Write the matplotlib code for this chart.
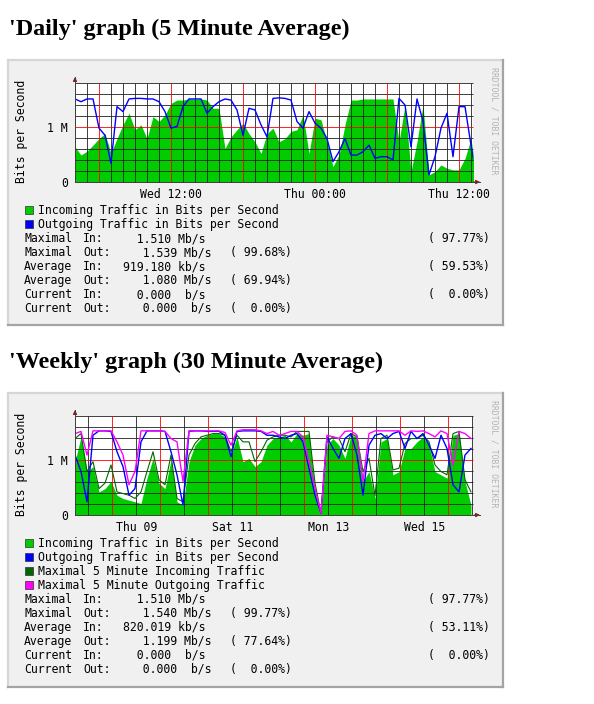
import numpy as np
import matplotlib
matplotlib.use('Agg')
import matplotlib.pyplot as plt
from matplotlib.patches import Rectangle
from matplotlib.lines import Line2D

# page size in pixels
W, H = 594, 704

# Daily graph: 30 minute samples starting Wed 04:00 (Mb/s)
daily_in = [0.64, 0.49, 0.56, 0.67, 0.79, 0.88, 0.52, 0.79, 1.04, 1.25, 0.95,
            1.04, 0.79, 1.19, 1.10, 1.22, 1.43, 1.49, 1.49, 1.51, 1.51, 1.51,
            1.49, 1.34, 1.34, 0.61, 0.82, 0.95, 1.07, 0.88, 0.73, 0.52, 0.88,
            0.98, 0.73, 0.79, 0.92, 0.95, 1.22, 0.52, 1.16, 1.13, 0.73, 0.28,
            0.49, 1.04, 1.49, 1.49, 1.51, 1.51, 1.51, 1.51, 1.51, 1.51, 0.73,
            1.40, 0.19, 0.73, 1.40, 0.13, 0.19, 0.31, 0.25, 0.22, 0.22, 0.43,
            0.79, 0.0]
daily_out = [1.51, 1.46, 1.51, 1.51, 0.98, 0.85, 0.34, 1.37, 1.28, 1.51, 1.52,
             1.52, 1.51, 1.51, 1.46, 1.28, 0.98, 1.01, 1.37, 1.51, 1.51, 1.51,
             1.25, 1.37, 1.46, 1.51, 1.49, 1.31, 0.85, 1.34, 1.31, 1.04, 0.82,
             1.52, 1.53, 1.52, 1.49, 1.10, 0.98, 1.28, 1.07, 0.98, 0.79, 0.37,
             0.55, 0.79, 0.49, 0.49, 0.55, 0.67, 0.43, 0.46, 0.46, 0.40, 1.52,
             1.40, 0.64, 1.51, 1.10, 0.13, 0.46, 0.98, 1.25, 0.46, 1.37, 1.37,
             0.67, 0.0]
daily_tick_hours = [12, 24, 36]
daily_tick_labels = ['Wed 12:00', 'Thu 00:00', 'Thu 12:00']

# Weekly graph: 3 hour samples starting Wed 08 05:20 (Mb/s)
weekly_in = [0.97, 1.42, 0.79, 0.88, 0.42, 0.48, 0.61, 0.36, 0.30, 0.27, 0.24,
             0.21, 0.67, 1.03, 0.58, 0.48, 1.00, 0.24, 0.18, 0.97, 1.27, 1.39,
             1.45, 1.48, 1.48, 1.42, 1.09, 1.42, 0.97, 1.03, 0.88, 0.97, 1.27,
             1.39, 1.42, 1.45, 1.33, 1.48, 1.45, 1.48, 0.42, 0.03, 1.27, 1.39,
             1.27, 1.03, 1.45, 1.42, 0.61, 0.79, 0.30, 1.33, 1.39, 0.73, 0.79,
             1.21, 1.21, 1.33, 1.42, 1.27, 0.79, 0.73, 0.67, 1.45, 1.48, 0.61,
             0.18]
weekly_max_in = [1.39, 1.48, 0.79, 0.97, 0.48, 0.58, 0.91, 0.42, 0.39, 0.36,
                 0.30, 0.42, 0.79, 1.15, 0.64, 0.55, 1.09, 0.30, 0.24, 1.09,
                 1.30, 1.42, 1.45, 1.48, 1.48, 1.45, 1.15, 1.45, 1.33, 1.33,
                 0.97, 1.15, 1.36, 1.42, 1.45, 1.45, 1.42, 1.52, 1.52, 1.52,
                 0.58, 0.03, 1.33, 1.42, 1.39, 1.15, 1.48, 1.42, 0.79, 1.03,
                 0.35, 1.39, 1.45, 0.82, 0.85, 1.30, 1.39, 1.39, 1.45, 1.33,
                 0.91, 0.79, 0.73, 1.48, 1.52, 0.64, 0.42]
weekly_out = [1.09, 0.79, 0.24, 1.45, 1.53, 1.53, 1.52, 1.15, 0.88, 0.36, 0.48,
              1.33, 1.53, 1.53, 1.53, 1.52, 1.15, 0.73, 0.18, 1.52, 1.53, 1.53,
              1.52, 1.52, 1.52, 1.45, 1.06, 1.52, 1.53, 1.53, 1.53, 1.52, 1.45,
              1.45, 1.42, 1.39, 1.45, 1.48, 1.33, 0.85, 0.36, 0.03, 1.42, 1.21,
              1.03, 1.39, 1.48, 1.09, 0.36, 1.27, 1.45, 1.48, 1.39, 1.48, 1.52,
              1.21, 1.52, 1.39, 1.48, 1.27, 1.03, 1.45, 1.21, 0.55, 0.42, 1.09,
              1.21]
weekly_max_out = [1.48, 1.52, 1.09, 1.53, 1.53, 1.53, 1.53, 1.33, 1.09, 0.55,
                  0.79, 1.53, 1.53, 1.53, 1.53, 1.52, 1.39, 1.33, 0.61, 1.53,
                  1.53, 1.53, 1.53, 1.53, 1.53, 1.50, 1.27, 1.53, 1.55, 1.55,
                  1.55, 1.53, 1.48, 1.52, 1.45, 1.48, 1.52, 1.52, 1.42, 0.97,
                  0.48, 0.03, 1.45, 1.42, 1.39, 1.52, 1.53, 1.45, 0.61, 1.48,
                  1.53, 1.53, 1.53, 1.53, 1.53, 1.45, 1.53, 1.52, 1.53, 1.48,
                  1.42, 1.53, 1.48, 0.91, 1.52, 1.48, 1.39]
weekly_tick_hours = [36, 84, 132, 180]
weekly_tick_labels = ['Thu 09', 'Sat 11', 'Mon 13', 'Wed 15']

# statistics rows: (kind, direction, value, percent)
daily_stats = [('Maximal', 'In:', '  1.510 Mb/s', '( 97.77%)'),
               ('Maximal', 'Out:', '  1.539 Mb/s', '( 99.68%)'),
               ('Average', 'In:', '919.180 kb/s', '( 59.53%)'),
               ('Average', 'Out:', '  1.080 Mb/s', '( 69.94%)'),
               ('Current', 'In:', '  0.000  b/s', '(  0.00%)'),
               ('Current', 'Out:', '  0.000  b/s', '(  0.00%)')]
weekly_stats = [('Maximal', 'In:', '  1.510 Mb/s', '( 97.77%)'),
                ('Maximal', 'Out:', '  1.540 Mb/s', '( 99.77%)'),
                ('Average', 'In:', '820.019 kb/s', '( 53.11%)'),
                ('Average', 'Out:', '  1.199 Mb/s', '( 77.64%)'),
                ('Current', 'In:', '  0.000  b/s', '(  0.00%)'),
                ('Current', 'Out:', '  0.000  b/s', '(  0.00%)')]

GREEN = '#00cc00'
BLUE = '#0000ff'
DKGREEN = '#006600'
MAGENTA = '#ff00ff'
MONO = 'DejaVu Sans Mono'
FS = 8.3


def fx(x):
    return x / W


def fy(y):
    return 1 - y / H


def draw_box(fig, x0, y0, x1, y1):
    # gray panel behind the graph, drawn below the axes
    fig.add_artist(Rectangle((fx(x0), fy(y1)), (x1 - x0) / W, (y1 - y0) / H,
                             transform=fig.transFigure, fc='#f0f0f0', ec='none',
                             zorder=-2))
    light, dark = '#d6d6d6', '#a4a4a4'
    for xs, ys, c in [((x0, x1), (y0, y0), light), ((x0, x0), (y0, y1), light),
                      ((x0, x1), (y1, y1), dark), ((x1, x1), (y0, y1), dark)]:
        fig.add_artist(Line2D([fx(v) for v in xs], [fy(v) for v in ys],
                              transform=fig.transFigure, color=c, lw=1.6,
                              zorder=-1))


def mono_text(fig, x, row, s, **kw):
    fig.text(fx(x), fy(row + 4), s, family=MONO, fontsize=FS, va='baseline', **kw)


def draw_panel(fig, dy, title, x0, pph, hours, areas, lines, grid_step,
               red_every, tick_hours, tick_labels, legend, stats, box_bottom):
    fig.text(fx(9), fy(35 + dy), title, fontsize=17.4, fontweight='bold',
             family='Liberation Serif', va='baseline')
    draw_box(fig, 8, 60 + dy, 503, box_bottom)

    ax = fig.add_axes([fx(75), fy(182 + dy), 410 / W, 107 / H])
    ax.set_facecolor('none')
    ax.set_xlim(x0, x0 + 410 / pph)
    ax.set_ylim(0, 107 / 55)
    for s in ax.spines.values():
        s.set_visible(False)
    x_end = x0 + 398 / pph
    plot_bg = Rectangle((x0, 0), x_end - x0, 1.8, fc='white', ec='none', zorder=0.5)
    ax.add_patch(plot_bg)

    for vals, col in areas:
        poly = ax.fill_between(hours[:len(vals)], 0, vals, color=col, lw=0, zorder=1)
        poly.set_clip_path(plot_bg)

    # grid
    first = np.ceil(x0 / grid_step) * grid_step
    gx = np.arange(first, x_end + 0.01, grid_step)
    blk = [g for g in gx if g % red_every != 0]
    red = [g for g in gx if g % red_every == 0]
    ax.vlines(blk, 0, 1.8, colors='#202020', lw=0.6, zorder=2)
    ax.vlines(red, 0, 1.8, colors='#ff0000', lw=0.6, zorder=2.1)
    gy = np.round(np.arange(0.2, 1.81, 0.2), 1)
    ax.hlines([g for g in gy if g != 1.0], x0, x_end, colors='#202020', lw=0.6, zorder=2)
    ax.hlines([1.0], x0, x_end, colors='#ff0000', lw=0.6, zorder=2.1)

    for vals, col, lw in lines:
        ln, = ax.plot(hours[:len(vals)], vals, color=col, lw=lw, zorder=3)
        ln.set_clip_path(plot_bg)

    # axes with arrows
    ytop = 105 / 55
    xr = x0 + 405 / pph
    ax.plot([x0, x0], [0, ytop], color='#404040', lw=0.7, zorder=4, clip_on=False)
    ax.plot([x0, xr], [0, 0], color='#404040', lw=0.7, zorder=4, clip_on=False)
    arr = dict(arrowstyle='-|>', color='#8b1a1a', lw=0.7, mutation_scale=6,
               shrinkA=0, shrinkB=0)
    ax.annotate('', xy=(x0, ytop), xytext=(x0, ytop - 0.08), arrowprops=arr)
    ax.annotate('', xy=(xr, 0), xytext=(xr - 6 / pph, 0), arrowprops=arr)

    ax.set_xticks(tick_hours, tick_labels, family=MONO, fontsize=FS)
    ax.set_yticks([0, 1.0], ['0', '1 M'], family=MONO, fontsize=FS)
    ax.tick_params(axis='x', length=0, pad=4.3)
    ax.tick_params(axis='y', length=0, pad=5)

    fig.text(fx(22), fy(131 + dy), 'Bits per Second', rotation=90, ha='center',
             va='center', family=MONO, fontsize=FS)
    fig.text(fx(494), fy(121 + dy), 'RRDTOOL / TOBI OETIKER', rotation=270,
             ha='center', va='center', family=MONO, fontsize=5.9, color='#b4b4b4')

    # legend and statistics
    row = 210 + dy
    for label, col in legend:
        fig.add_artist(Rectangle((fx(24.5), fy(row + 4)), 8 / W, 8 / H,
                                 transform=fig.transFigure, fc=col, ec='#303030', lw=0.5))
        mono_text(fig, 38, row, label)
        row += 14
    for kind, direction, value, pct in stats:
        mono_text(fig, 24, row, kind)
        mono_text(fig, 83, row, direction)
        if direction == 'In:':
            mono_text(fig, 123, row, value)
            mono_text(fig, 428, row, pct)
        else:
            mono_text(fig, 129, row, value)
            mono_text(fig, 230, row, pct)
        row += 14


fig = plt.figure(figsize=(W / 100, H / 100), dpi=100)
fig.patch.set_facecolor('white')

daily_hours = 4 + 0.5 * np.arange(len(daily_in))
draw_panel(fig, 0, "'Daily' graph (5 Minute Average)", 4.0, 12.0, daily_hours,
           [(daily_in, GREEN)], [(daily_out, BLUE, 1.0)], 1, 6,
           daily_tick_hours, daily_tick_labels,
           [('Incoming Traffic in Bits per Second', GREEN),
            ('Outgoing Traffic in Bits per Second', BLUE)],
           daily_stats, 325)

weekly_start = 5 + 1 / 3
weekly_hours = weekly_start + 3 * np.arange(len(weekly_in))
draw_panel(fig, 333, "'Weekly' graph (30 Minute Average)", weekly_start, 2.0,
           weekly_hours, [(weekly_in, GREEN)],
           [(weekly_max_in, DKGREEN, 0.8), (weekly_out, BLUE, 1.0),
            (weekly_max_out, MAGENTA, 1.0)], 12, 24,
           weekly_tick_hours, weekly_tick_labels,
           [('Incoming Traffic in Bits per Second', GREEN),
            ('Outgoing Traffic in Bits per Second', BLUE),
            ('Maximal 5 Minute Incoming Traffic', DKGREEN),
            ('Maximal 5 Minute Outgoing Traffic', MAGENTA)],
           weekly_stats, 687)

fig.savefig('out.png', dpi=100)
